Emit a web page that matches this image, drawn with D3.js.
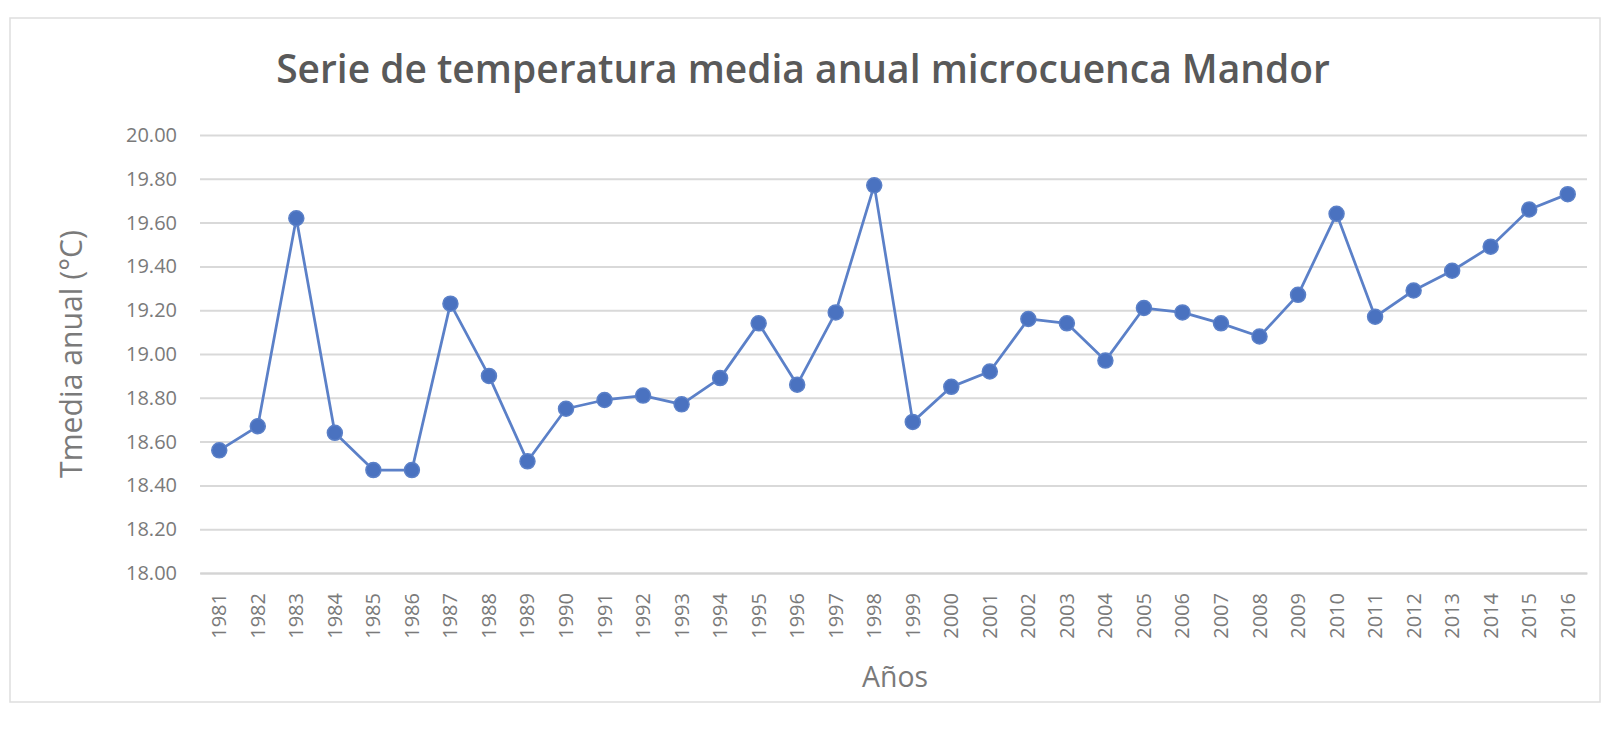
<!DOCTYPE html>
<html>
<head>
<meta charset="utf-8">
<script src="https://cdn.jsdelivr.net/npm/d3@7"></script>
<style>
  html, body { margin: 0; padding: 0; background: #ffffff; }
  svg { display: block; }
  text { font-family: "Open Sans", "DejaVu Sans", sans-serif; }
</style>
</head>
<body>
<svg id="chart" width="1611" height="731"></svg>
<script>
// Annual mean temperature series, microcuenca Mandor
const years = ["1981","1982","1983","1984","1985","1986","1987","1988","1989","1990",
  "1991","1992","1993","1994","1995","1996","1997","1998","1999","2000",
  "2001","2002","2003","2004","2005","2006","2007","2008","2009","2010",
  "2011","2012","2013","2014","2015","2016"];
const tmedia = [18.56, 18.67, 19.62, 18.64, 18.47, 18.47, 19.23, 18.90, 18.51, 18.75,
  18.79, 18.81, 18.77, 18.89, 19.14, 18.86, 19.19, 19.77, 18.69, 18.85,
  18.92, 19.16, 19.14, 18.97, 19.21, 19.19, 19.14, 19.08, 19.27, 19.64,
  19.17, 19.29, 19.38, 19.49, 19.66, 19.73];
const yTicks = [18.0, 18.2, 18.4, 18.6, 18.8, 19.0, 19.2, 19.4, 19.6, 19.8, 20.0];
const yDomain = [18.0, 20.0];

const titleText = "Serie de temperatura media anual microcuenca Mandor";
const yTitleText = "Tmedia  anual (°C)";
const xTitleText = "Años";

const svg = d3.select("#chart");
const plot = { left: 200, right: 1587, top: 135, bottom: 573 };

// chart frame
svg.append("rect")
  .attr("x", 10).attr("y", 18)
  .attr("width", 1590).attr("height", 684)
  .attr("fill", "#ffffff")
  .attr("stroke", "#dedede").attr("stroke-width", 1.5);

const x = d3.scaleBand().domain(years).range([plot.left, plot.right]).padding(0);
const y = d3.scaleLinear().domain(yDomain).range([plot.bottom, plot.top]);

// horizontal gridlines + y labels
const yAxis = d3.axisLeft(y)
  .tickValues(yTicks)
  .tickSize(-(plot.right - plot.left))
  .tickPadding(23)
  .tickFormat(d3.format(".2f"));

const gy = svg.append("g")
  .attr("transform", `translate(${plot.left},0)`)
  .call(yAxis);
gy.select(".domain").remove();
gy.selectAll(".tick line").attr("stroke", "#d9d9d9").attr("stroke-width", 2);
gy.selectAll(".tick text")
  .attr("fill", "#7a7a7a")
  .style("font-size", "20px");

// category axis
const xAxis = d3.axisBottom(x).tickSize(0).tickPadding(0);
const gx = svg.append("g")
  .attr("transform", `translate(0,${plot.bottom})`)
  .call(xAxis);
gx.select(".domain").attr("stroke", "#d4d4d4").attr("stroke-width", 2);
gx.selectAll(".tick text")
  .attr("fill", "#7a7a7a")
  .style("font-size", "20px")
  .attr("text-anchor", "end")
  .attr("dy", null)
  .attr("transform", "translate(7,20) rotate(-90)")
  .attr("x", 0).attr("y", 0);

// series line and markers
const cx = d => x(d.year) + x.bandwidth() / 2;
const pts = years.map((yr, i) => ({ year: yr, value: tmedia[i] }));

svg.append("path")
  .datum(pts)
  .attr("fill", "none")
  .attr("stroke", "#5b80c8")
  .attr("stroke-width", 2.75)
  .attr("stroke-linejoin", "round")
  .attr("d", d3.line().x(cx).y(d => y(d.value)));

svg.append("g")
  .selectAll("circle")
  .data(pts)
  .join("circle")
  .attr("cx", cx)
  .attr("cy", d => y(d.value))
  .attr("r", 7.5)
  .attr("fill", "#4a72c0")
  .attr("stroke", "#5b80c8")
  .attr("stroke-width", 1.5);

// fit a text element to a target width by adjusting its font size
function fitWidth(sel, target) {
  const fs = parseFloat(sel.style("font-size"));
  const w = sel.node().getComputedTextLength();
  if (w > 0) sel.style("font-size", (fs * target / w) + "px");
}

// title
const title = svg.append("text")
  .attr("x", 803).attr("y", 83)
  .attr("text-anchor", "middle")
  .attr("fill", "#595959")
  .style("font-size", "34px")
  .style("font-weight", 600)
  .text(titleText);
fitWidth(title, 1054);

// axis titles
const yTitle = svg.append("text")
  .attr("transform", "translate(82,354) rotate(-90)")
  .attr("text-anchor", "middle")
  .attr("fill", "#7a7a7a")
  .style("font-size", "24px")
  .text(yTitleText);
fitWidth(yTitle, 248);

const xTitle = svg.append("text")
  .attr("x", 895).attr("y", 687)
  .attr("text-anchor", "middle")
  .attr("fill", "#7a7a7a")
  .style("font-size", "24px")
  .text(xTitleText);
fitWidth(xTitle, 66);
</script>
</body>
</html>
